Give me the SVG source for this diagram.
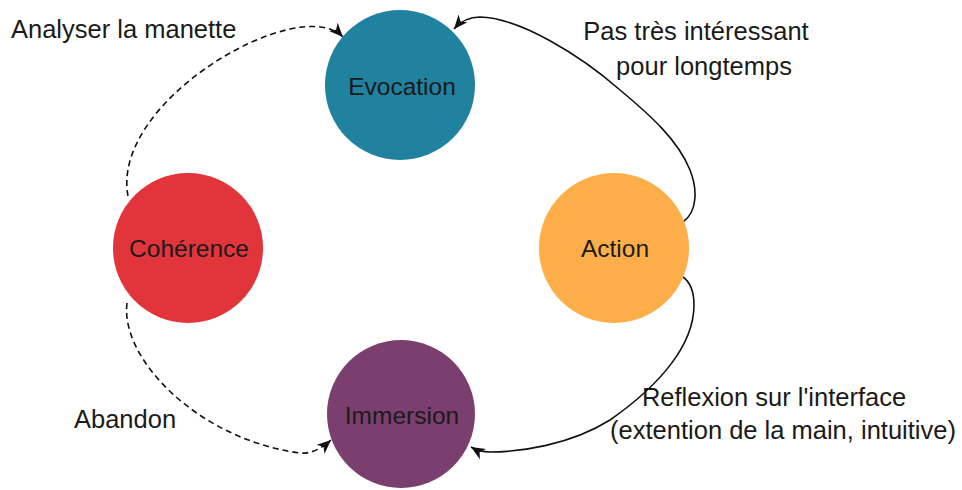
<svg xmlns="http://www.w3.org/2000/svg" width="962" height="490" viewBox="0 0 962 490">
<style>
.node-label{font-family:"Liberation Sans",Arial,sans-serif;font-size:24.5px;fill:#1a1a1a;text-anchor:middle}
.edge-label{font-family:"Liberation Sans",Arial,sans-serif;font-size:25.5px;fill:#1a1a1a}
.edge{fill:none;stroke:#111;stroke-width:1.6}
.dashed{stroke-dasharray:6 4}
</style>
<defs>
<marker id="arrow" viewBox="0 0 14 12" refX="14" refY="6" markerWidth="14" markerHeight="12" markerUnits="userSpaceOnUse" orient="auto">
<path d="M0,0 L14,6 L0,12 L4,6 Z" fill="#111"/>
</marker>
</defs>
<rect width="962" height="490" fill="#ffffff"/>
<g id="connectors">
<path class="edge dashed" d="M128,196 C110,100 300,-8 343,37" marker-end="url(#arrow)"/>
<path class="edge" d="M683,222 C697,212 698,190 690,170 C678,140 650,115 620,90 C580,55 520,18 480,17 C468,17 460,22 454,29" marker-end="url(#arrow)"/>
<path class="edge" d="M683,277 C690,282 694,292 694,305 C694,345 660,385 610,420 C570,445 520,452 490,452 C482,452 476,450 471,447" marker-end="url(#arrow)"/>
<path class="edge dashed" d="M127,303 C120,360 200,440 300,453 C312,454 322,448 331,440" marker-end="url(#arrow)"/>
</g>
<g id="node-evocation">
<circle cx="400" cy="85" r="75" fill="#21829f"/>
<text class="node-label" x="402" y="95">Evocation</text>
</g>
<g id="node-coherence">
<circle cx="188" cy="248" r="75" fill="#e2343b"/>
<text class="node-label" x="189" y="257">Cohérence</text>
</g>
<g id="node-action">
<circle cx="614" cy="248" r="75" fill="#fdae48"/>
<text class="node-label" x="615" y="257">Action</text>
</g>
<g id="node-immersion">
<circle cx="401" cy="414" r="74" fill="#7b3f6f"/>
<text class="node-label" x="402" y="424">Immersion</text>
</g>
<g id="labels">
<text class="edge-label" x="11" y="38">Analyser la manette</text>
<text class="edge-label" x="696" y="40" text-anchor="middle">Pas très intéressant</text>
<text class="edge-label" x="704" y="75" text-anchor="middle">pour longtemps</text>
<text class="edge-label" x="74" y="428">Abandon</text>
<text class="edge-label" x="774" y="406" text-anchor="middle">Reflexion sur l'interface</text>
<text class="edge-label" x="783" y="439" text-anchor="middle">(extention de la main, intuitive)</text>
</g>
</svg>
